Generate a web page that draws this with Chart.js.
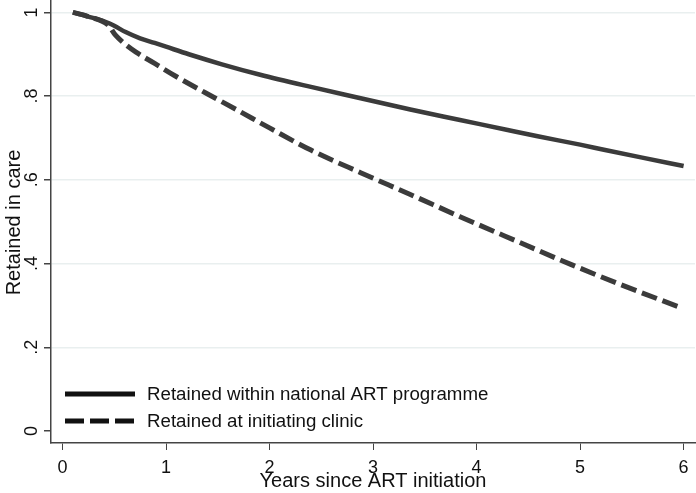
<!DOCTYPE html>
<html>
<head>
<meta charset="utf-8">
<script src="https://cdn.jsdelivr.net/npm/chart.js@4.4.1/dist/chart.umd.min.js"></script>
<style>
html,body{margin:0;padding:0;background:#fff;}
#wrap{width:696px;height:493px;position:relative;}
</style>
</head>
<body>
<div id="wrap"><canvas id="c" width="696" height="493"></canvas></div>
<script>
// Data
const seriesLabels = ["Retained within national ART programme", "Retained at initiating clinic"];
const nationalYears = [0.1, 0.25, 0.42, 0.5, 0.61, 0.75, 0.89, 1.0, 1.22, 1.54, 1.91, 2.4, 2.88, 3.36, 3.84, 4.3, 4.59, 5.0, 5.23, 5.6, 6.0];
const nationalRetained = [1.0, 0.99, 0.977, 0.968, 0.953, 0.938, 0.927, 0.918, 0.9, 0.876, 0.851, 0.822, 0.795, 0.768, 0.743, 0.719, 0.704, 0.684, 0.672, 0.653, 0.633];
const clinicYears = [0.1, 0.25, 0.44, 0.51, 0.6, 0.71, 0.89, 1.09, 1.38, 1.7, 2.0, 2.4, 2.88, 3.36, 3.84, 4.43, 4.91, 5.39, 5.99];
const clinicRetained = [1.0, 0.99, 0.97, 0.946, 0.925, 0.905, 0.878, 0.848, 0.808, 0.765, 0.724, 0.671, 0.617, 0.565, 0.512, 0.449, 0.398, 0.35, 0.293];
const xTickValues = [0, 1, 2, 3, 4, 5, 6];
const xTickLabels = ["0", "1", "2", "3", "4", "5", "6"];
const yTickValues = [0, 0.2, 0.4, 0.6, 0.8, 1];
const yTickLabels = ["0", ".2", ".4", ".6", ".8", "1"];
const xTitle = "Years since ART initiation";
const yTitle = "Retained in care";

const FONT = "'Liberation Sans', Arial, sans-serif";
const LINE_COLOR = "#3b3b3b";

function toPoints(xs, ys) { return xs.map((x, i) => ({x: x, y: ys[i]})); }

const textPlugin = {
  id: 'textPlugin',
  afterDraw(chart) {
    const ctx = chart.ctx;
    const xs = chart.scales.x, ys = chart.scales.y;
    const area = chart.chartArea;
    ctx.save();
    ctx.fillStyle = '#111';
    ctx.font = '18px ' + FONT;
    // y tick labels (rotated)
    yTickValues.forEach((v, i) => {
      const py = ys.getPixelForValue(v);
      ctx.save();
      ctx.translate(area.left - 14.5, py);
      ctx.rotate(-Math.PI / 2);
      ctx.textAlign = 'center';
      ctx.textBaseline = 'alphabetic';
      ctx.fillText(yTickLabels[i], 0, 0);
      ctx.restore();
    });
    // x tick labels
    xTickValues.forEach((v, i) => {
      const px = xs.getPixelForValue(v);
      ctx.textAlign = 'center';
      ctx.textBaseline = 'alphabetic';
      ctx.fillText(xTickLabels[i], px, area.bottom + 30);
    });
    // x title
    ctx.font = '20px ' + FONT;
    ctx.textAlign = 'center';
    ctx.fillText(xTitle, (area.left + area.right) / 2, area.bottom + 44);
    // y title
    ctx.save();
    ctx.translate(area.left - 31.5, (area.top + area.bottom) / 2 + 1);
    ctx.rotate(-Math.PI / 2);
    ctx.textAlign = 'center';
    ctx.fillText(yTitle, 0, 0);
    ctx.restore();
    // legend inside plot area
    ctx.font = '18.7px ' + FONT;
    const lx0 = area.left + 14, lx1 = area.left + 84;
    const rows = [area.bottom - 49, area.bottom - 22];
    chart.data.datasets.forEach((ds, i) => {
      const yy = rows[i];
      ctx.save();
      ctx.strokeStyle = '#111';
      ctx.lineWidth = 5;
      ctx.setLineDash(i === 0 ? [] : [19, 6]);
      ctx.beginPath();
      ctx.moveTo(lx0, yy);
      ctx.lineTo(lx1, yy);
      ctx.stroke();
      ctx.restore();
      ctx.textAlign = 'left';
      ctx.textBaseline = 'middle';
      ctx.fillStyle = '#111';
      ctx.fillText(ds.label, area.left + 96, yy + 1);
    });
    ctx.restore();
  }
};

new Chart(document.getElementById('c'), {
  type: 'line',
  data: {
    datasets: [
      {
        label: seriesLabels[0],
        data: toPoints(nationalYears, nationalRetained),
        borderColor: LINE_COLOR,
        borderWidth: 4.5,
        pointRadius: 0,
        cubicInterpolationMode: 'monotone',
        fill: false
      },
      {
        label: seriesLabels[1],
        data: toPoints(clinicYears, clinicRetained),
        borderColor: LINE_COLOR,
        borderWidth: 5,
        borderDash: [16, 6],
        pointRadius: 0,
        cubicInterpolationMode: 'monotone',
        fill: false
      }
    ]
  },
  options: {
    responsive: false,
    animation: false,
    devicePixelRatio: 1,
    layout: {padding: {top: 0, right: 1, left: 0, bottom: 0}},
    plugins: {legend: {display: false}, tooltip: {enabled: false}},
    scales: {
      x: {
        type: 'linear',
        min: -0.111,
        max: 6.11,
        afterBuildTicks(scale) { scale.ticks = xTickValues.map(v => ({value: v})); },
        afterFit(scale) { scale.height = 50; },
        ticks: {display: false},
        grid: {drawOnChartArea: false, drawTicks: true, tickLength: 7, tickColor: '#444', tickWidth: 1},
        border: {display: true, color: '#444', width: 1.5}
      },
      y: {
        type: 'linear',
        min: -0.0287,
        max: 1.0296,
        afterBuildTicks(scale) { scale.ticks = yTickValues.map(v => ({value: v})); },
        afterFit(scale) { scale.width = 51; },
        ticks: {display: false},
        grid: {
          drawOnChartArea: true,
          drawTicks: true,
          tickLength: 7,
          tickColor: '#444',
          color: (c) => (c.tick && c.tick.value === 0) ? 'rgba(0,0,0,0)' : '#e9efef',
          lineWidth: 1.5
        },
        border: {display: true, color: '#444', width: 1.5}
      }
    }
  },
  plugins: [textPlugin]
});
</script>
</body>
</html>
